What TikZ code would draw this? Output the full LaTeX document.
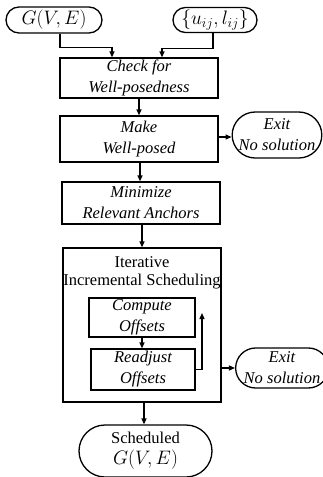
\RequirePackage{fix-cm}
\documentclass[tikz,border=0pt]{standalone}
\usepackage{fontspec}
\setmainfont{Liberation Serif}
\usetikzlibrary{arrows.meta,shapes.misc}
\begin{document}
\begin{tikzpicture}[x=1pt,y=-1pt,
  font=\fontsize{16.5}{21}\selectfont,
  box/.style={draw,line width=1.3pt,align=center,inner sep=0pt,font=\fontsize{16.5}{21}\selectfont\itshape},
  term/.style={draw,line width=1.3pt,rounded rectangle,align=center,inner sep=0pt},
  mathfont/.style={font=\fontsize{19.5}{22}\selectfont}]
\tikzset{arr/.style={line width=1.3pt,-{Triangle[length=6pt,width=5pt]}}}
\useasboundingbox (0,0) rectangle (323,477);
\node[term,mathfont,minimum width=96pt,minimum height=26pt] (G) at (54,20) {$G(V,E)$};
\node[term,mathfont,minimum width=84pt,minimum height=25pt] (U) at (215,20) {$\{u_{ij},l_{ij}\}$};
\node[box,minimum width=158pt,minimum height=40pt] (Check) at (139,78) {Check for\\Well-posedness};
\node[box,minimum width=158pt,minimum height=46pt] (Make) at (139,139) {Make\\Well-posed};
\node[term,minimum width=88pt,minimum height=46pt,font=\fontsize{16.5}{21}\selectfont\itshape] (Exit1) at (277,135) {Exit\\No solution};
\node[box,minimum width=158pt,minimum height=42pt] (Min) at (141,203) {Minimize\\Relevant Anchors};
\node[draw,line width=1.3pt,minimum width=158pt,minimum height=154pt,inner sep=0pt] (Iter) at (142,325) {};
\node[align=center,anchor=north,inner sep=0pt,font=\fontsize{16.5}{18}\selectfont] (IterT) at ([yshift=-9pt]Iter.north) {Iterative\\Incremental Scheduling};
\node[box,minimum width=106pt,minimum height=39pt] (Comp) at (142,317.5) {Compute\\Offsets};
\node[box,minimum width=104pt,minimum height=41pt] (Read) at (143,369.5) {Readjust\\Offsets};
\node[term,minimum width=82pt,minimum height=40pt,font=\fontsize{16.5}{21}\selectfont\itshape] (Exit2) at (282,368) {Exit\\No solution};
\node[term,minimum width=133pt,minimum height=52pt] (Sched) at (145.5,451) {Scheduled\\{\fontsize{19.5}{21}\selectfont$G(V,E)$}};
\coordinate (FB) at (202,313);
\draw[arr] ([xshift=6pt]G.south) -- ++(0,14) -| ([xshift=-27pt]Check.north);
\draw[arr] ([xshift=-2pt]U.south) -- ++(0,15) -| ([xshift=23pt]Check.north);
\draw[arr] (Check.south) -- (Make.north);
\draw[arr] ([yshift=2pt]Make.east) -- ([yshift=2pt]Make.east -| Exit1.west);
\draw[arr] ([xshift=1pt]Make.south) -- ([xshift=1pt]Make.south |- Min.north);
\draw[arr] ([xshift=1pt]Min.south) -- ([xshift=1pt]Min.south |- Iter.north);
\draw[arr] (Comp.south) -- (Comp.south |- Read.north);
\draw[arr] (Read.east) -| (FB);
\draw[arr] ([yshift=-43pt]Iter.east) -- ([yshift=-43pt]Iter.east -| Exit2.west);
\draw[arr] ([xshift=2pt]Iter.south) -- ([xshift=2pt]Iter.south |- Sched.north);
\end{tikzpicture}
\end{document}
